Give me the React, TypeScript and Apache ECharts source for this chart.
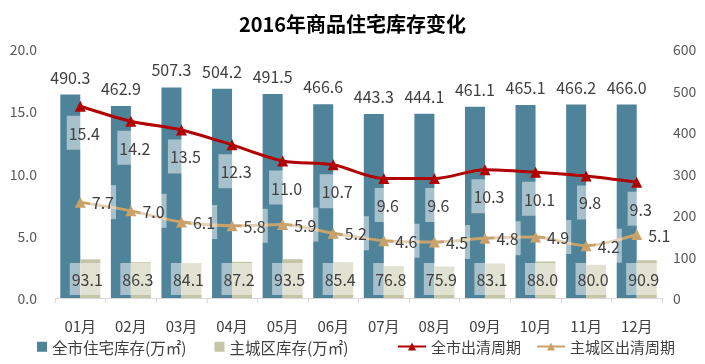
import React, { useEffect, useRef } from "react";
import * as echarts from "echarts";

const months = ["01月", "02月", "03月", "04月", "05月", "06月", "07月", "08月", "09月", "10月", "11月", "12月"];
const cityStock = [490.3, 462.9, 507.3, 504.2, 491.5, 466.6, 443.3, 444.1, 461.1, 465.1, 466.2, 466.0];
const mainStock = [93.1, 86.3, 84.1, 87.2, 93.5, 85.4, 76.8, 75.9, 83.1, 88.0, 80.0, 90.9];
const cityCycle = [15.4, 14.2, 13.5, 12.3, 11.0, 10.7, 9.6, 9.6, 10.3, 10.1, 9.8, 9.3];
const mainCycle = [7.7, 7.0, 6.1, 5.8, 5.9, 5.2, 4.6, 4.5, 4.8, 4.9, 4.2, 5.1];

const FONT = "'Noto Sans CJK SC', 'Noto Sans', sans-serif";
const TXT = "#404040";

export default function App() {
  const ref = useRef<HTMLDivElement>(null);
  useEffect(() => {
    if (!ref.current) return;
    const chart = echarts.init(ref.current, null, { renderer: "svg" });
    const boxLabel = {
      show: true,
      fontSize: 16,
      fontFamily: FONT,
      color: TXT,
      backgroundColor: "rgba(255,255,255,0.5)",
      padding: [9, 2],
      formatter: (p: any) => Number(p.value).toFixed(1),
    };
    chart.setOption({
      animation: false,
      textStyle: { fontFamily: FONT },
      title: {
        text: "2016年商品住宅库存变化",
        left: "center",
        top: 8,
        textStyle: { fontSize: 20, fontWeight: "bold", color: "#000", fontFamily: FONT },
      },
      legend: [
        {
          data: ["全市住宅库存(万㎡)", "主城区库存(万㎡)"],
          left: 37,
          top: 339,
          padding: 0,
          icon: "rect",
          itemWidth: 10,
          itemHeight: 10,
          itemGap: 28,
          textStyle: { fontSize: 15.5, color: TXT, fontFamily: FONT },
        },
        {
          data: ["全市出清周期", "主城区出清周期"],
          left: 397,
          top: 339,
          padding: 0,
          itemWidth: 28,
          itemHeight: 10,
          itemGap: 15,
          textStyle: { fontSize: 15, color: TXT, fontFamily: FONT },
        },
      ],
      grid: { left: 55, right: 43, top: 49, bottom: 66 },
      xAxis: {
        type: "category",
        data: months,
        axisLine: { lineStyle: { color: "#D9D9D9" } },
        axisTick: { show: true, length: 5, lineStyle: { color: "#D9D9D9" } },
        axisLabel: { fontSize: 15, color: TXT, margin: 20, fontFamily: FONT },
      },
      yAxis: [
        {
          type: "value",
          min: 0,
          max: 20,
          interval: 5,
          splitLine: { show: false },
          axisLine: { show: false },
          axisTick: { show: false },
          axisLabel: {
            fontSize: 14,
            color: "#595959",
            margin: 18,
            fontFamily: FONT,
            formatter: (v: number) => v.toFixed(1),
          },
        },
        {
          type: "value",
          min: 0,
          max: 600,
          interval: 100,
          splitLine: { show: false },
          axisLine: { show: false },
          axisTick: { show: false },
          axisLabel: { fontSize: 14, color: "#595959", margin: 11, fontFamily: FONT },
        },
      ],
      series: [
        {
          name: "全市住宅库存(万㎡)",
          type: "bar",
          yAxisIndex: 1,
          data: cityStock,
          barWidth: 20,
          barGap: "0%",
          itemStyle: { color: "#4F8399" },
          label: {
            show: true,
            position: "top",
            distance: 10,
            fontSize: 16,
            color: TXT,
            fontFamily: FONT,
            formatter: (p: any) => Number(p.value).toFixed(1),
          },
        },
        {
          name: "主城区库存(万㎡)",
          type: "bar",
          yAxisIndex: 1,
          data: mainStock,
          barWidth: 20,
          barGap: "0%",
          itemStyle: { color: "#C4C4A7" },
          label: { ...boxLabel, position: "insideBottom", distance: 3, padding: [8, 2], offset: [-3, 0] },
        },
        {
          name: "全市出清周期",
          type: "line",
          yAxisIndex: 0,
          data: cityCycle,
          smooth: 0.3,
          symbol: "triangle",
          symbolSize: 11,
          lineStyle: { color: "#B00000", width: 3 },
          itemStyle: { color: "#B00000" },
          z: 5,
          label: { ...boxLabel, position: "bottom", distance: 4, offset: [4, 0] },
        },
        {
          name: "主城区出清周期",
          type: "line",
          yAxisIndex: 0,
          data: mainCycle,
          smooth: 0.3,
          symbol: "triangle",
          symbolSize: 11,
          lineStyle: { color: "#C9A26B", width: 3 },
          itemStyle: { color: "#C9A26B" },
          z: 5,
          label: { ...boxLabel, position: "right", distance: 4 },
        },
      ],
    });
    return () => chart.dispose();
  }, []);
  return <div ref={ref} style={{ position: "fixed", left: 0, top: 0, width: 705, height: 364 }} />;
}
